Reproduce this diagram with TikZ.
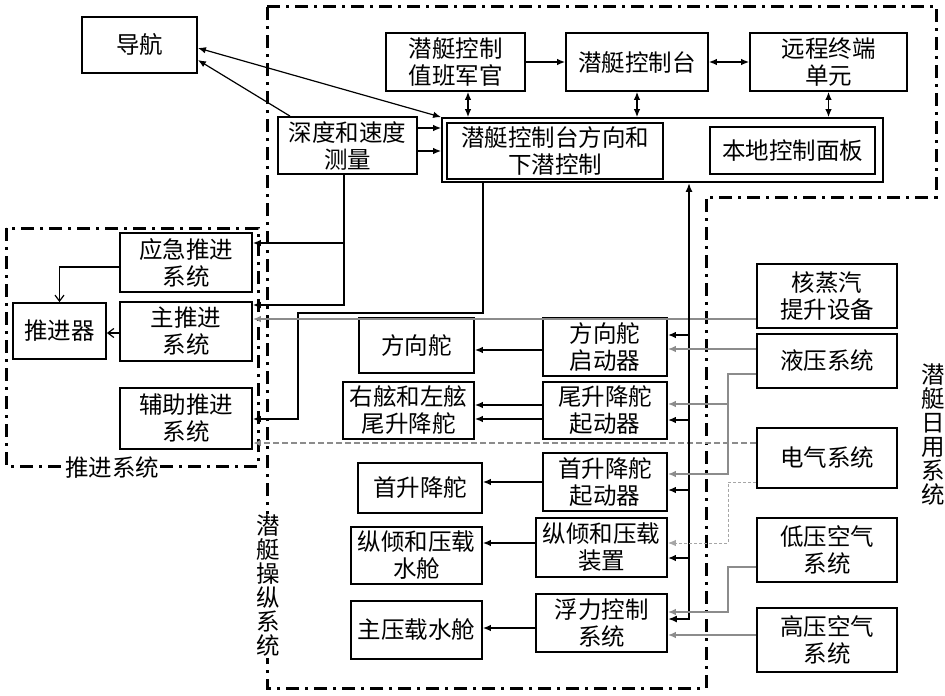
\documentclass[tikz,border=0pt]{standalone}
\usepackage{fontspec}
\setmainfont{Noto Sans CJK SC}
\usetikzlibrary{arrows.meta}
\begin{document}
\begin{tikzpicture}[x=1pt,y=-1pt,
  box/.style={draw,line width=1.8pt,inner sep=0pt,align=center,font=\fontsize{23.5}{27}\selectfont},
  tip/.style={-{Latex[length=8pt,width=6.5pt]}},
  conn/.style={line width=1.2pt,tip},
  dconn/.style={line width=1.2pt,{Latex[length=8pt,width=6.5pt]}-{Latex[length=8pt,width=6.5pt]}},
  bconn/.style={line width=1.8pt,tip},
  bus/.style={line width=2.4pt,{Latex[length=9pt,width=7pt]}-{Latex[length=9pt,width=7pt]}},
  gconn/.style={line width=1.4pt,color=black!45,tip},
  gdash/.style={line width=1.8pt,color=black!45,dash pattern=on 6pt off 3pt,tip},
  gdot/.style={line width=1pt,color=black!35,dash pattern=on 3pt off 2pt,tip},
  oconn/.style={line width=1.2pt,-{Straight Barb[length=6pt,width=9pt]}},
  frame/.style={line width=3pt,dash pattern=on 13pt off 6pt on 3pt off 6pt},
  lbl/.style={inner sep=1pt,align=center,font=\fontsize{23.5}{24}\selectfont}]
\useasboundingbox (0,0) rectangle (945,696);

% frames
\draw[frame] (267,6) -- (936,6) -- (936,197) -- (706,197) -- (706,688) -- (267,688) -- cycle;
\draw[frame] (6,228) rectangle (258,466);
\node[lbl,fill=white] (lprop) at (112,468) {推进系统};
\node[lbl,fill=white] (lman) at (268,586) {潜\\艇\\操\\纵\\系\\统};
\node[lbl] (lhot) at (933,435) {潜\\艇\\日\\用\\系\\统};

% top boxes
\node[box,minimum width=115pt,minimum height=56pt] (nav) at (139.5,45) {导航};
\node[box,minimum width=139pt,minimum height=58pt] (duty) at (455.5,62) {潜艇控制\\值班军官};
\node[box,minimum width=142pt,minimum height=58pt] (console) at (637,62) {潜艇控制台};
\node[box,minimum width=157pt,minimum height=58pt] (rtu) at (828.5,62) {远程终端\\单元};
\node[box,minimum width=441pt,minimum height=64pt] (big) at (662.5,150) {};
\node[box,minimum width=216pt,minimum height=56pt] (dive) at (555,151) {潜艇控制台方向和\\下潜控制};
\node[box,minimum width=165pt,minimum height=47pt] (panel) at (792.5,150.5) {本地控制面板};
\node[box,minimum width=139pt,minimum height=57pt] (depth) at (347.5,145.5) {深度和速度\\测量};

% propulsion
\node[box,minimum width=132pt,minimum height=59pt] (emerg) at (186,262.5) {应急推进\\系统};
\node[box,minimum width=132pt,minimum height=59pt] (mainp) at (186,331.5) {主推进\\系统};
\node[box,minimum width=93pt,minimum height=56pt] (prop) at (59.5,331) {推进器};
\node[box,minimum width=132pt,minimum height=61pt] (aux) at (186,418.5) {辅助推进\\系统};

% control surfaces
\node[box,minimum width=115pt,minimum height=55pt] (rudder) at (416.5,345.5) {方向舵};
\node[box,minimum width=131pt,minimum height=57pt] (sternpl) at (408.5,410.5) {右舷和左舷\\尾升降舵};
\node[box,minimum width=124pt,minimum height=58pt] (rudderact) at (605,347) {方向舵\\启动器};
\node[box,minimum width=124pt,minimum height=57pt] (sternact) at (605,410.5) {尾升降舵\\起动器};
\node[box,minimum width=124pt,minimum height=58pt] (bowact) at (605,482) {首升降舵\\起动器};
\node[box,minimum width=124pt,minimum height=50pt] (bowpl) at (420,488) {首升降舵};
\node[box,minimum width=131pt,minimum height=59pt] (trimdev) at (601.5,547.5) {纵倾和压载\\装置};
\node[box,minimum width=131pt,minimum height=57pt] (trimtank) at (416.5,555.5) {纵倾和压载\\水舱};
\node[box,minimum width=131pt,minimum height=58pt] (buoy) at (601.5,623) {浮力控制\\系统};
\node[box,minimum width=131pt,minimum height=58pt] (mbt) at (416.5,630) {主压载水舱};

% hotel systems
\node[box,minimum width=140pt,minimum height=64pt] (nuc) at (827,296) {核蒸汽\\提升设备};
\node[box,minimum width=140pt,minimum height=54pt] (hyd) at (827,361) {液压系统};
\node[box,minimum width=140pt,minimum height=60pt] (elec) at (827,458) {电气系统};
\node[box,minimum width=140pt,minimum height=64pt] (lpa) at (827,550) {低压空气\\系统};
\node[box,minimum width=140pt,minimum height=64pt] (hpa) at (827,640) {高压空气\\系统};

% top connectors
\draw[conn] (duty.east) -- (console.west);
\draw[dconn] (console.east) -- (rtu.west);
\draw[dconn] (duty.south -| 468,0) -- (big.north -| 468,0);
\draw[dconn] (console.south) -- (console.south |- big.north);
\draw[dconn] (rtu.south) -- (rtu.south |- big.north);
\draw[dconn] (nav.east |- 0,48) -- (big.north west);
\draw[conn] (depth.north -| 290,0) -- (nav.east |- 0,60);
\draw[conn] (depth.east |- 0,128) -- (big.west |- 0,128);
\draw[conn] (depth.east |- 0,151) -- (big.west |- 0,151);

% to propulsion
\coordinate (j1) at (344,243);
\draw[conn] (depth.south -| 344,0) |- (mainp.east |- 0,305);
\draw[conn] (j1) -- (emerg.east |- 0,243);
\draw[conn] (big.south -| 483,0) |- (298,313) |- (aux.east |- 0,419);
\draw[gconn] (nuc.west |- 0,319) -- (mainp.east |- 0,319);
\draw[gdash] (elec.west |- 0,443) -- (aux.east |- 0,443);
\draw[oconn] (emerg.west |- 0,267) -| (prop.north);
\draw[oconn] (mainp.west |- 0,333) -- (prop.east |- 0,333);

% bus
\draw[bus] (big.south -| 689,0) |- (buoy.east |- 0,619);
\coordinate (b1) at (689,335);
\coordinate (b2) at (689,420);
\coordinate (b3) at (689,490);
\coordinate (b4) at (689,558);
\draw[bconn] (b1) -- (rudderact.east |- b1);
\draw[bconn] (b2) -- (sternact.east |- b2);
\draw[bconn] (b3) -- (bowact.east |- b3);
\draw[bconn] (b4) -- (trimdev.east |- b4);

% hotel to actuators
\coordinate (h1) at (728,404);
\draw[gconn] (hyd.west |- 0,349) -- (rudderact.east |- 0,349);
\draw[gconn] (hyd.west |- 0,374) -| (728,474) -- (bowact.east |- 0,474);
\draw[gconn] (h1) -- (sternact.east |- h1);
\draw[gdot] (elec.west |- 0,482) -| (728,543) -- (trimdev.east |- 0,543);
\draw[gconn] (lpa.west |- 0,567) -| (728,612) -- (buoy.east |- 0,612);
\draw[gconn] (hpa.west |- 0,635) -- (buoy.east |- 0,635);

% actuators to surfaces
\draw[conn] (rudderact.west |- 0,350) -- (rudder.east |- 0,350);
\draw[conn] (sternact.west |- 0,405) -- (sternpl.east |- 0,405);
\draw[conn] (sternact.west |- 0,419) -- (sternpl.east |- 0,419);
\draw[conn] (bowact.west |- 0,482) -- (bowpl.east |- 0,482);
\draw[conn] (trimdev.west |- 0,543) -- (trimtank.east |- 0,543);
\draw[conn] (buoy.west |- 0,628) -- (mbt.east |- 0,628);
\end{tikzpicture}
\end{document}
